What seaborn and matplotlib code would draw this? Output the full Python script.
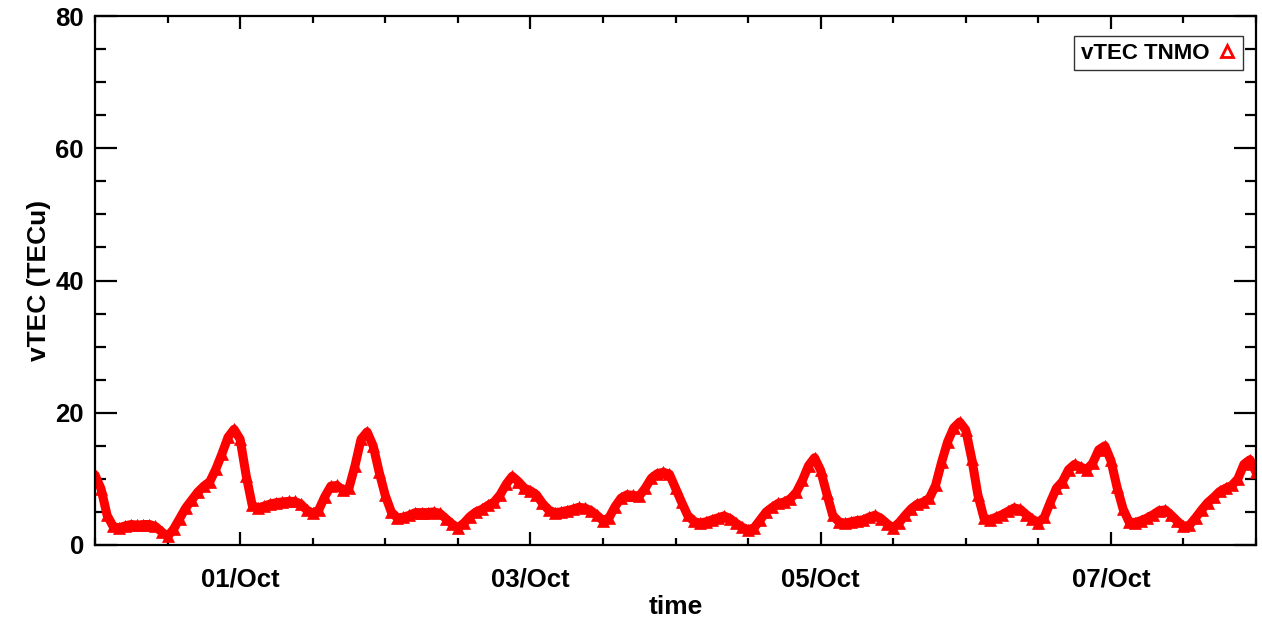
import numpy as np
import pandas as pd
import matplotlib
matplotlib.use("Agg")
import matplotlib.pyplot as plt
import matplotlib.dates as mdates
from matplotlib.lines import Line2D
import seaborn as sns

# hourly vTEC values (TECu), starting 30/Sep 00:00
day_sep30 = [10.6, 8.5, 4.5, 2.8, 2.6, 2.9, 3.1, 3.0, 3.1, 3.1, 2.8, 2.0,
             1.3, 2.4, 4.0, 5.6, 6.8, 8.0, 8.9, 9.6, 11.5, 13.8, 16.3, 17.5]
day_oct01 = [16.0, 10.5, 6.0, 5.6, 5.9, 6.2, 6.4, 6.5, 6.6, 6.6, 6.2, 5.3,
             4.8, 5.3, 7.3, 8.9, 9.0, 8.3, 8.6, 12.0, 16.0, 17.1, 15.0, 11.0]
day_oct02 = [7.5, 5.0, 4.1, 4.2, 4.5, 4.9, 4.9, 4.9, 5.0, 4.8, 4.0, 3.2,
             2.6, 3.3, 4.3, 5.0, 5.4, 6.0, 6.5, 7.6, 9.2, 10.4, 9.6, 8.6]
day_oct03 = [8.2, 7.6, 6.3, 5.3, 4.9, 5.0, 5.2, 5.4, 5.7, 5.6, 5.2, 4.5,
             3.7, 4.1, 5.8, 7.1, 7.6, 7.5, 7.4, 8.6, 10.1, 10.8, 11.0, 10.7]
day_oct04 = [8.6, 6.5, 4.5, 3.6, 3.3, 3.5, 3.8, 4.1, 4.4, 4.0, 3.3, 2.7,
             2.3, 2.6, 3.8, 5.0, 5.7, 6.3, 6.5, 7.0, 8.0, 9.8, 12.0, 13.2]
day_oct05 = [11.3, 7.8, 4.5, 3.5, 3.3, 3.5, 3.7, 3.8, 4.2, 4.5, 4.0, 3.2,
             2.6, 3.4, 4.5, 5.5, 6.2, 6.5, 7.1, 9.0, 12.5, 15.6, 17.7, 18.6]
day_oct06 = [17.4, 13.0, 7.6, 4.1, 3.8, 4.2, 4.6, 5.1, 5.6, 5.4, 4.6, 3.9,
             3.4, 4.2, 6.5, 8.6, 9.6, 11.4, 12.2, 11.8, 11.4, 12.4, 14.4, 15.0]
day_oct07 = [12.8, 8.8, 5.5, 3.5, 3.4, 3.7, 4.1, 4.6, 5.2, 5.3, 4.5, 3.6,
             2.8, 3.0, 4.1, 5.3, 6.4, 7.2, 8.1, 8.6, 9.0, 10.0, 12.2, 12.9]
day_oct08 = [11.0]

vtec = (day_sep30 + day_oct01 + day_oct02 + day_oct03 + day_oct04
        + day_oct05 + day_oct06 + day_oct07 + day_oct08)
times = pd.date_range("2016-09-30 00:00", periods=len(vtec), freq="h")
df = pd.DataFrame({"time": times, "vtec": vtec})

y_ticks = [0, 20, 40, 60, 80]
station = "TNMO"

sns.set_style("ticks")
plt.rcParams["font.family"] = ["Liberation Sans", "DejaVu Sans"]
plt.rcParams["font.weight"] = "bold"
for key in ["text.color", "axes.labelcolor", "xtick.color", "ytick.color",
            "xtick.labelcolor", "ytick.labelcolor", "axes.edgecolor"]:
    plt.rcParams[key] = "black"

fig = plt.figure(figsize=(12.62, 6.18), dpi=100)
ax = fig.add_axes([95 / 1262, 1 - 545 / 618, (1256 - 95) / 1262, (545 - 16) / 618])

sns.lineplot(data=df, x="time", y="vtec", ax=ax, color="red", lw=6.5,
             marker="^", markersize=9, markeredgecolor="red",
             markeredgewidth=0.5, legend=False,
             solid_joinstyle="round", solid_capstyle="round")

ax.set_xlim(pd.Timestamp("2016-09-30 00:00"), pd.Timestamp("2016-10-08 00:00"))
ax.set_ylim(0, 80)
ax.set_yticks(y_ticks)
ax.yaxis.set_minor_locator(matplotlib.ticker.MultipleLocator(5))
ax.xaxis.set_major_locator(mdates.DayLocator(bymonthday=[1, 3, 5, 7]))
ax.xaxis.set_minor_locator(mdates.HourLocator(byhour=[0, 12]))
ax.xaxis.set_major_formatter(mdates.DateFormatter("%d/%b"))

for s in ax.spines.values():
    s.set_visible(True)
    s.set_linewidth(1.6)
    s.set_color("black")

ax.tick_params(axis="both", which="both", direction="in", top=True, right=True,
               color="black", width=1.6)
ax.tick_params(axis="x", which="major", length=9.5, pad=16, labelsize=18.5)
ax.tick_params(axis="x", which="minor", length=5.0)
ax.tick_params(axis="y", which="major", length=16, pad=8, labelsize=18.5)
ax.tick_params(axis="y", which="minor", length=8)
for lab in ax.get_xticklabels() + ax.get_yticklabels():
    lab.set_fontweight("bold")
    lab.set_color("black")

ax.set_xlabel("time", fontsize=19, fontweight="bold", labelpad=3, color="black")
ax.set_ylabel("vTEC (TECu)", fontsize=19, fontweight="bold", labelpad=3, color="black")

handle = Line2D([], [], linestyle="none", marker="^", markersize=9,
                markerfacecolor="none", markeredgecolor="red", markeredgewidth=2)
leg = ax.legend([handle], [f"vTEC {station}"], loc="upper right",
                bbox_to_anchor=(0.9888, 0.962), borderaxespad=0,
                markerfirst=False, frameon=True, fancybox=False,
                prop={"weight": "bold", "size": 16}, handlelength=0.8,
                handletextpad=0.4, borderpad=0.3)
leg.get_frame().set_edgecolor("black")
leg.get_frame().set_linewidth(1.0)
for t in leg.get_texts():
    t.set_color("black")

fig.savefig("out.png", dpi=100)
